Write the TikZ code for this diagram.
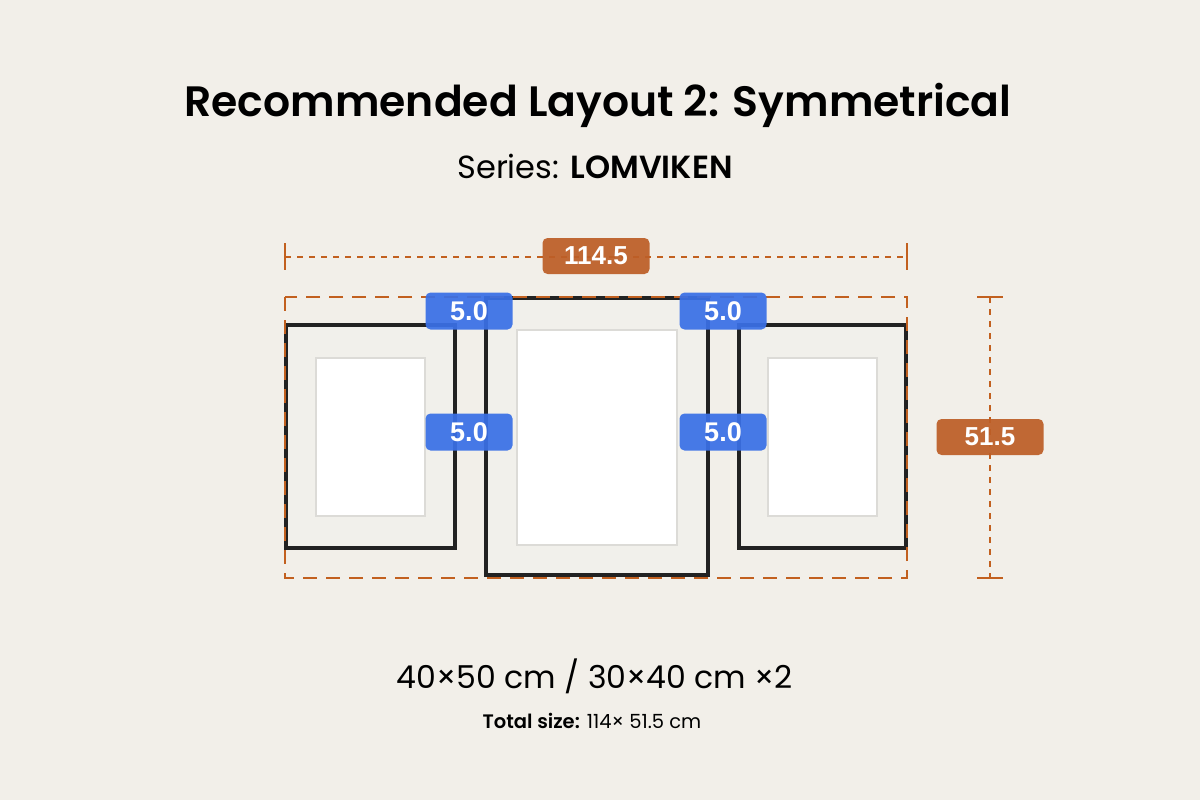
\documentclass[tikz,border=0pt]{standalone}
\usepackage{fontspec}
\setmainfont{Poppins}[BoldFont={Poppins SemiBold}]
\newfontfamily\labelfont{Liberation Sans}
\definecolor{bg}{HTML}{F2EFE9}
\definecolor{dimc}{HTML}{C2601F}
\definecolor{dimbox}{HTML}{BD5E27}
\definecolor{gapblue}{HTML}{3A70E6}
\definecolor{mat}{HTML}{F1F0EB}
\definecolor{matedge}{HTML}{DCDBD7}
\definecolor{framec}{HTML}{222222}
\tikzset{
  framebox/.style={draw=framec,line width=4pt,fill=mat},
  photo/.style={draw=matedge,line width=2pt,fill=white},
  outerdash/.style={draw=dimc,line width=2.8pt,dash pattern=on 14pt off 9pt},
  dimline/.style={draw=dimc,line width=1.6pt,dash pattern=on 6pt off 6pt},
  dimtick/.style={draw=dimc,line width=1.6pt},
  dimlabel/.style={fill=dimbox,fill opacity=0.93,text opacity=1,rounded corners=5pt,text=white,
    font=\labelfont\bfseries\fontsize{26}{28}\selectfont,minimum width=107pt,minimum height=36pt,inner sep=0pt},
  gaplabel/.style={fill=gapblue,fill opacity=0.93,text opacity=1,rounded corners=5pt,text=white,
    font=\labelfont\bfseries\fontsize{27}{29}\selectfont,minimum width=87pt,minimum height=37pt,inner sep=0pt},
}
\begin{document}
\begin{tikzpicture}[x=1pt,y=-1pt]
\fill[bg] (0,0) rectangle (1200,800);
\useasboundingbox (0,0) rectangle (1200,800);
% title
\node[font=\bfseries\fontsize{42.5}{48}\selectfont] (title) at (598,105) {Recommended Layout 2: Symmetrical};
\node[font=\fontsize{32}{36}\selectfont] (series) at (595,166) {Series: \textbf{LOMVIKEN}};
% frames
\draw[framebox] (286,325) rectangle (455,548);
\draw[photo] (316,358) rectangle (425,516);
\draw[framebox] (486,298) rectangle (708,575);
\draw[photo] (517,330) rectangle (677,545);
\draw[framebox] (739,325) rectangle (906,548);
\draw[photo] (768,358) rectangle (877,516);
% outer dashed
\draw[outerdash] (285,297) rectangle (907,578);
% top dimension
\coordinate (tl) at (285,257);
\coordinate (tr) at (907,257);
\draw[dimtick] (285,243) -- (285,270);
\draw[dimtick] (907,243) -- (907,270);
\draw[dimline] (tl) -- (tr);
\node[dimlabel] (w) at (596,256) {114.5};
% right dimension
\coordinate (rt) at (990,297);
\coordinate (rb) at (990,578);
\draw[dimtick] (977,297) -- (1003,297);
\draw[dimtick] (977,578) -- (1003,578);
\draw[dimline] (rt) -- (rb);
\node[dimlabel] (h) at (990,437) {51.5};
% gap labels
\node[gaplabel] (g1) at (469,311) {5.0};
\node[gaplabel] (g2) at (723,311) {5.0};
\node[gaplabel] (g3) at (469,432) {5.0};
\node[gaplabel] (g4) at (723,432) {5.0};
% bottom text
\node[font=\fontsize{31.5}{36}\selectfont] (sizes) at (595,676) {40×50 cm / 30×40 cm ×2};
\node[font=\fontsize{19.5}{23}\selectfont] (total) at (592,721) {\textbf{Total size:} 114× 51.5 cm};
\end{tikzpicture}
\end{document}
